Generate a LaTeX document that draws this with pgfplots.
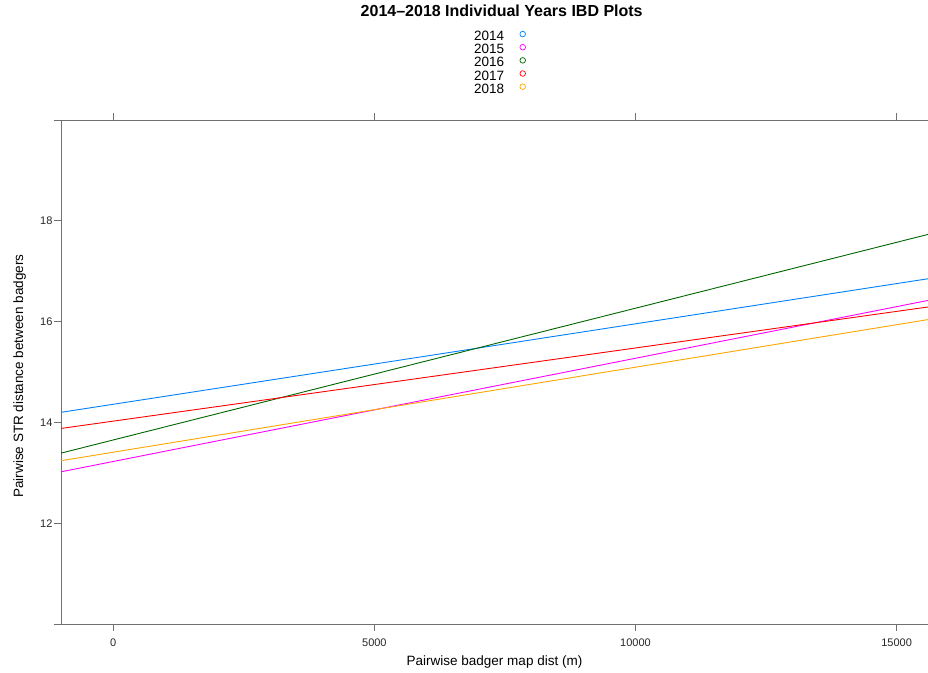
\documentclass[border=0pt]{standalone}
\usepackage{fontspec}
\setmainfont{Liberation Sans}
\usepackage{pgfplots}
\pgfplotsset{compat=1.18}
\definecolor{c2014}{HTML}{0080FF}
\definecolor{c2015}{HTML}{FF00FF}
\definecolor{c2016}{HTML}{006400}
\definecolor{c2017}{HTML}{FF0000}
\definecolor{c2018}{HTML}{FFA500}
\definecolor{axcol}{HTML}{707070}
\begin{document}
\begin{tikzpicture}
\begin{axis}[
  at={(61pt,48pt)}, anchor=south west,
  scale only axis, width=867pt, height=504pt,
  xmin=-1000, xmax=15600, ymin=10, ymax=20,
  axis x line*=box, axis y line*=left,
  axis line style={draw=axcol, line width=0.9pt},
  xtick={0,5000,10000,15000},
  ytick={12,14,16,18},
  extra y ticks={10,20}, extra y tick labels={},
  tick align=outside, major tick length=7pt,
  tick style={draw=axcol, line width=0.9pt},
  xtick pos=both, ytick pos=left,
  scaled x ticks=false,
  /pgf/number format/1000 sep={},
  /pgf/number format/assume math mode=true,
  tick label style={font=\fontsize{11}{13}\selectfont, text=black!85},
  xticklabel style={yshift=-4.5pt},
  yticklabel style={xshift=2pt},
  xlabel={Pairwise badger map dist (m)},
  ylabel={Pairwise STR distance between badgers},
  label style={font=\fontsize{13.5}{16}\selectfont},
  xlabel style={at={(axis description cs:0.5,-0.0833)}, anchor=base},
  ylabel style={at={(axis description cs:-0.0438,0.492)}, anchor=base},
  title={2014--2018 Individual Years IBD Plots},
  title style={at={(axis description cs:0.5083,1.193)}, anchor=base, font=\fontsize{16}{19}\bfseries\selectfont},
  legend cell align=right,
  legend plot pos=right,
  legend style={at={(axis description cs:0.4764,1.1772)}, anchor=north west,
    draw=none, fill=none, inner sep=0pt, outer sep=0pt,
    column sep=15.5pt, row sep=0pt,
    font=\fontsize{13.5}{16}\selectfont,
    nodes={inner sep=0pt, outer sep=0pt, text height=10pt, text depth=3.15pt}},
  legend image code/.code={\draw[#1, line width=0.7pt] (0pt,3.2pt) circle (2.8pt);},
]
\addplot[c2014, line width=0.9pt] coordinates {(-1000,14.20) (15600,16.85)};
\addlegendentry{2014}
\addplot[c2015, line width=0.9pt] coordinates {(-1000,13.02) (15600,16.42)};
\addlegendentry{2015}
\addplot[c2016, line width=0.9pt] coordinates {(-1000,13.39) (15600,17.73)};
\addlegendentry{2016}
\addplot[c2017, line width=0.9pt] coordinates {(-1000,13.88) (15600,16.29)};
\addlegendentry{2017}
\addplot[c2018, line width=0.9pt] coordinates {(-1000,13.24) (15600,16.04)};
\addlegendentry{2018}
\end{axis}
\pgfresetboundingbox
\path[use as bounding box] (0,0) rectangle (928pt,672pt);
\end{tikzpicture}
\end{document}
